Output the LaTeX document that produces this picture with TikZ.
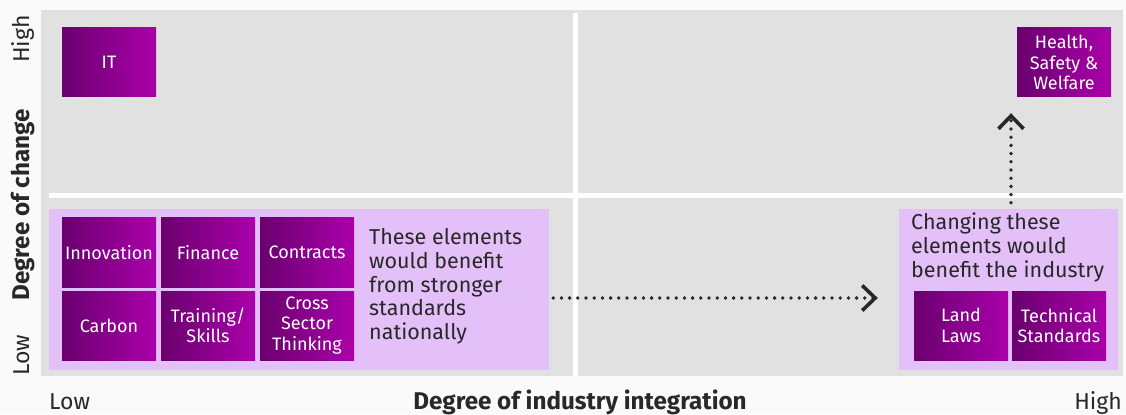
\documentclass[tikz,border=0pt]{standalone}
\usepackage{fontspec}
\setmainfont{Fira Sans}
\usetikzlibrary{arrows.meta}

\definecolor{pagebg}{RGB}{250,250,250}
\definecolor{panel}{RGB}{225,225,225}
\definecolor{lilac}{RGB}{227,192,248}
\definecolor{plumL}{RGB}{106,0,110}
\definecolor{plumR}{RGB}{170,0,170}
\definecolor{ink}{RGB}{40,40,40}

\tikzset{
  elem/.style={minimum width=94pt, minimum height=69pt, inner sep=1pt,
    left color=plumL, right color=plumR, text=white, align=center,
    font=\fontsize{18}{20.5}\selectfont},
  zone/.style={fill=lilac, inner sep=0pt, minimum height=161pt},
  note/.style={anchor=north west, inner sep=0pt, align=left, text=ink,
    font=\fontsize{21.5}{23.7}\selectfont},
  axis/.style={inner sep=0pt, text=ink, font=\fontsize{23}{26}\selectfont},
  axistitle/.style={axis, font=\fontsize{24.2}{27}\selectfont\bfseries},
  flow/.style={ink, line width=3.8pt, line cap=round, dash pattern=on 0pt off 8.2pt,
    -{Straight Barb[length=13pt,width=25pt,line width=3.6pt]}}
}

\begin{document}
\begin{tikzpicture}[x=1pt,y=-1pt] % matrix of change vs integration
    \fill[pagebg] (0,0) rectangle (1126,414);
    \fill[panel] (41,10) rectangle (1123,376);
    \draw[white, line width=5pt] (49,196) -- (1123,196);
    \draw[white, line width=5pt] (575.5,13) -- (575.5,376);

    \node[zone, minimum width=500pt] (lowleft) at (299,289.5) {};
    \node[zone, minimum width=219pt] (lowright) at (1008.5,289.5) {};

    \node[elem] (it) at (109,62.5) {IT};
    \node[elem] (innovation) at (109,252.5) {Innovation};
    \node[elem] (finance) at (208,252.5) {Finance};
    \node[elem] (contracts) at (307,252.5) {Contracts};
    \node[elem] (carbon) at (109,325.5) {Carbon};
    \node[elem] (training) at (208,325.5) {Training/\\Skills};
    \node[elem] (crosssector) at (307,325.5) {Cross\\Sector\\Thinking};
    \node[elem] (hsw) at (1064,62.5) {Health,\\Safety \&\\Welfare};
    \node[elem] (land) at (961,325.5) {Land\\Laws};
    \node[elem] (technical) at (1059,325.5) {Technical\\Standards};

    \node[note] (nationally) at (369,228.5) {These elements\\would benefit\\from stronger\\standards\\nationally};
    \node[note] (industry) at (911,213) {Changing these\\elements would\\benefit the industry};

    \draw[flow, shorten <=4pt, shorten >=21pt] ([yshift=-8.5pt]lowleft.east) -- ([yshift=-8.5pt]lowright.west);
    \coordinate (rise) at ([xshift=2.5pt]lowright.north);
    \draw[flow, shorten <=6pt, shorten >=16pt] (rise) -- (rise |- hsw.south);

    \node[axis, anchor=base west] (xlow) at (49,409) {Low};
    \node[axis, anchor=base east] (xhigh) at (1122,409) {High};
    \node[axistitle, anchor=base] (xtitle) at (580,409) {Degree of industry integration};
    \node[axis, rotate=90, anchor=base east] (yhigh) at (29,15) {High};
    \node[axis, rotate=90, anchor=base west] (ylow) at (29,376) {Low};
    \node[axistitle, rotate=90, anchor=base] (ytitle) at (29,205) {Degree of change};
\end{tikzpicture}
\end{document}
